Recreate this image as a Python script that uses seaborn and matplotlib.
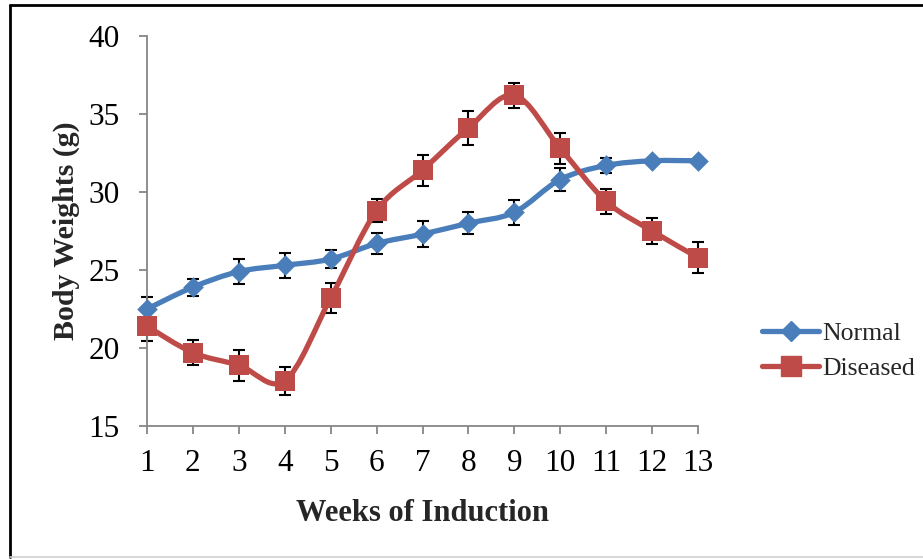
import numpy as np
import matplotlib
matplotlib.use("Agg")
import matplotlib.pyplot as plt
from matplotlib.path import Path
from matplotlib.patches import PathPatch
from matplotlib.lines import Line2D
import seaborn as sns
import pandas as pd

# Body weights over the induction period (mean ± SE)
weeks = [1, 2, 3, 4, 5, 6, 7, 8, 9, 10, 11, 12, 13]
normal_mean = [22.5, 23.9, 24.9, 25.3, 25.7, 26.7, 27.3, 28.0, 28.7, 30.8, 31.7, 32.0, 32.0]
normal_err = [0.8, 0.55, 0.8, 0.8, 0.6, 0.7, 0.85, 0.7, 0.8, 0.75, 0.5, 0.0, 0.0]
diseased_mean = [21.4, 19.7, 18.9, 17.9, 23.2, 28.8, 31.4, 34.1, 36.2, 32.8, 29.4, 27.5, 25.8]
diseased_err = [0.95, 0.8, 1.0, 0.9, 0.95, 0.75, 1.0, 1.1, 0.8, 1.0, 0.8, 0.85, 1.0]
y_ticks = [15, 20, 25, 30, 35, 40]

df = pd.DataFrame({
    "week": weeks * 2,
    "weight": normal_mean + diseased_mean,
    "err": normal_err + diseased_err,
    "group": ["Normal"] * len(weeks) + ["Diseased"] * len(weeks),
})

BLUE = "#4A7EBB"
RED = "#BE4B48"
GRAY = "#868686"

sns.set_theme(style="white")
plt.rcParams["font.family"] = ["Liberation Serif", "DejaVu Serif"]

fig = plt.figure(figsize=(9.23, 5.59), dpi=100)
ax = fig.add_axes([147 / 923, 1 - 426 / 559, (698 - 147) / 923, (426 - 36) / 559])


def smooth_path(xs, ys):
    """Cubic Bezier through the points (Catmull-Rom style tangents)."""
    pts = np.column_stack([xs, ys]).astype(float)
    n = len(pts)
    verts = [pts[0]]
    codes = [Path.MOVETO]
    for i in range(n - 1):
        p0 = pts[i - 1] if i > 0 else pts[i]
        p1 = pts[i]
        p2 = pts[i + 1]
        p3 = pts[i + 2] if i + 2 < n else pts[i + 1]
        c1 = p1 + (p2 - p0) / 6.0
        c2 = p2 - (p3 - p1) / 6.0
        verts += [c1, c2, p2]
        codes += [Path.CURVE4] * 3
    return Path(verts, codes)


styles = {
    "Normal": dict(color=BLUE, marker="D", ms=10.5),
    "Diseased": dict(color=RED, marker="s", ms=14.5),
}

for name, st in styles.items():
    sub = df[df["group"] == name]
    # error bars
    eb = ax.errorbar(sub["week"], sub["weight"], yerr=sub["err"], fmt="none",
                     ecolor="black", elinewidth=1.5, capsize=4.6, capthick=1.5, zorder=2)
    for part in eb.lines:
        for art in (part if isinstance(part, tuple) else [part]):
            if art is not None:
                art.set_clip_on(False)
    # smoothed connecting line
    patch = PathPatch(smooth_path(sub["week"].values, sub["weight"].values),
                      facecolor="none", edgecolor=st["color"], lw=3.8,
                      capstyle="round", joinstyle="round",
                      zorder=3 if name == "Normal" else 4)
    patch.set_clip_on(False)
    ax.add_patch(patch)

# markers
for name, st in styles.items():
    sub = df[df["group"] == name]
    sns.scatterplot(data=sub, x="week", y="weight", ax=ax, marker=st["marker"],
                    s=st["ms"] ** 2, color=st["color"], edgecolor=st["color"],
                    linewidth=0, zorder=5 if name == "Normal" else 6, legend=False)
for coll in ax.collections:
    coll.set_clip_on(False)

ax.set_xlim(1, 13)
ax.set_ylim(15, 40)
ax.set_xticks(weeks)
ax.set_xticklabels([str(w) for w in weeks])
ax.set_yticks(y_ticks)
ax.set_yticklabels([str(t) for t in y_ticks])

for side in ["top", "right"]:
    ax.spines[side].set_visible(False)
for side in ["left", "bottom"]:
    ax.spines[side].set_color(GRAY)
    ax.spines[side].set_linewidth(1.3)

ax.tick_params(axis="both", which="major", direction="out", length=5.5, width=1.3,
               color=GRAY, labelsize=22.5, labelcolor="black",
               bottom=True, left=True, top=False, right=False)
ax.tick_params(axis="y", pad=14)
ax.tick_params(axis="x", pad=11)
ax.set_xlabel("Weeks of Induction", fontsize=22, fontweight="bold", labelpad=15)
ax.set_ylabel("Body Weights (g)", fontsize=21.5, fontweight="bold", labelpad=6)
ax.grid(False)

handles = [
    Line2D([0], [0], color=BLUE, lw=3.8, marker="D", ms=10.5, mec=BLUE, solid_capstyle="round"),
    Line2D([0], [0], color=RED, lw=3.8, marker="s", ms=14.5, mec=RED, solid_capstyle="round"),
]
fig.legend(handles, ["Normal", "Diseased"], loc="center left",
           bbox_to_anchor=(752 / 923, 1 - 351 / 559), frameon=False,
           fontsize=18.5, handlelength=2.2, handletextpad=0.15, labelspacing=0.5,
           borderaxespad=0)

# outer chart border
fig.add_artist(Line2D([10 / 923, 10 / 923], [1 - 5 / 559, 1 - 557 / 559],
                      transform=fig.transFigure, color="black", lw=2))
fig.add_artist(Line2D([10 / 923, 1.0], [1 - 5 / 559, 1 - 5 / 559],
                      transform=fig.transFigure, color="black", lw=2))
fig.add_artist(Line2D([10 / 923, 1.0], [1 - 557 / 559, 1 - 557 / 559],
                      transform=fig.transFigure, color="#D0D0D0", lw=1.2))

fig.savefig("out.png", dpi=100, facecolor="white")
